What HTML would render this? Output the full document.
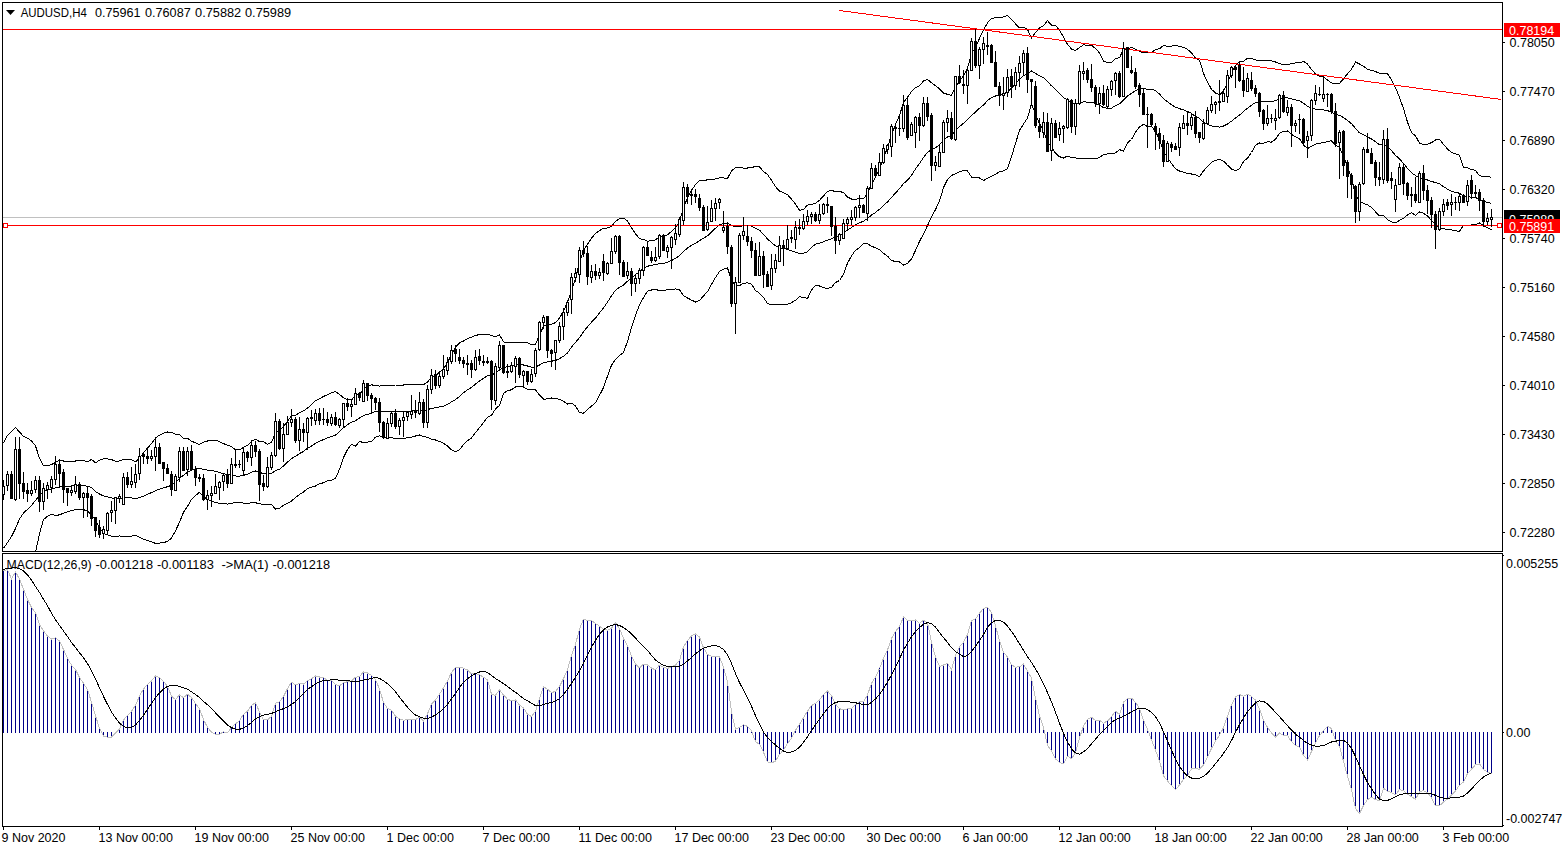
<!DOCTYPE html>
<html><head><meta charset="utf-8"><title>AUDUSD,H4</title>
<style>html,body{margin:0;padding:0;background:#fff;width:1566px;height:850px;overflow:hidden}</style>
</head><body>
<svg width="1566" height="850" viewBox="0 0 1566 850" style="display:block"><defs><clipPath id="cm"><rect x="3" y="3" width="1499" height="548"/></clipPath><clipPath id="cd"><rect x="3" y="554" width="1499" height="272"/></clipPath></defs><rect width="1566" height="850" fill="#fff"/><g clip-path="url(#cm)" shape-rendering="crispEdges"><rect x="3" y="217" width="1499" height="1" fill="#c0c0c0"/><polyline points="3.5,442.7 7.5,435.5 11.5,431.8 15.5,427.5 19.5,432.0 23.5,436.4 27.5,438.1 31.5,440.9 35.5,445.9 39.5,458.2 43.5,465.6 47.5,465.9 51.5,464.5 55.5,462.5 59.5,460.0 63.5,461.0 67.5,461.0 71.5,461.0 75.5,461.0 79.5,460.6 83.5,460.7 87.5,461.8 91.5,459.4 95.5,462.9 99.5,460.2 103.5,458.7 107.5,458.9 111.5,459.6 115.5,461.3 119.5,461.0 123.5,459.6 127.5,459.5 131.5,459.9 135.5,461.9 139.5,458.1 143.5,452.8 147.5,448.1 151.5,443.5 155.5,438.0 159.5,435.1 163.5,433.3 167.5,432.0 171.5,432.5 175.5,434.1 179.5,434.5 183.5,438.4 187.5,438.3 191.5,441.2 195.5,442.8 199.5,444.5 203.5,442.1 207.5,441.0 211.5,440.3 215.5,440.1 219.5,441.8 223.5,443.6 227.5,445.3 231.5,446.6 235.5,449.9 239.5,450.0 243.5,447.3 247.5,445.4 251.5,441.5 255.5,439.2 259.5,441.6 263.5,441.9 267.5,444.1 271.5,442.4 275.5,432.4 279.5,430.0 283.5,426.6 287.5,421.0 291.5,416.0 295.5,415.1 299.5,412.8 303.5,410.9 307.5,408.1 311.5,404.6 315.5,400.8 319.5,398.7 323.5,396.4 327.5,394.9 331.5,392.7 335.5,391.7 339.5,394.4 343.5,397.8 347.5,399.7 351.5,400.0 355.5,395.4 359.5,394.6 363.5,388.9 367.5,386.5 371.5,384.8 375.5,385.6 379.5,386.1 383.5,385.4 387.5,385.3 391.5,385.2 395.5,385.0 399.5,385.0 403.5,385.0 407.5,384.9 411.5,384.8 415.5,385.0 419.5,384.3 423.5,384.7 427.5,382.2 431.5,377.1 435.5,375.7 439.5,372.0 443.5,368.9 447.5,362.7 451.5,354.0 455.5,347.3 459.5,342.9 463.5,341.0 467.5,338.8 471.5,337.1 475.5,335.5 479.5,334.5 483.5,334.2 487.5,334.2 491.5,335.4 495.5,336.9 499.5,334.8 503.5,341.9 507.5,342.9 511.5,342.7 515.5,342.9 519.5,342.9 523.5,342.9 527.5,342.7 531.5,344.9 535.5,344.2 539.5,335.1 543.5,326.1 547.5,325.1 551.5,324.4 555.5,322.5 559.5,318.1 563.5,311.0 567.5,302.3 571.5,290.9 575.5,278.7 579.5,262.5 583.5,250.1 587.5,244.3 591.5,238.2 595.5,233.5 599.5,230.5 603.5,228.4 607.5,228.0 611.5,226.6 615.5,221.1 619.5,218.8 623.5,218.1 627.5,221.1 631.5,227.7 635.5,233.8 639.5,238.7 643.5,239.5 647.5,241.2 651.5,240.8 655.5,240.0 659.5,236.7 663.5,236.3 667.5,234.7 671.5,231.4 675.5,227.9 679.5,221.7 683.5,207.2 687.5,198.2 691.5,190.5 695.5,184.6 699.5,180.6 703.5,180.6 707.5,179.8 711.5,179.5 715.5,178.9 719.5,177.9 723.5,178.0 727.5,178.6 731.5,170.7 735.5,167.9 739.5,167.9 743.5,168.0 747.5,168.0 751.5,167.9 755.5,166.1 759.5,166.8 763.5,171.5 767.5,174.6 771.5,180.2 775.5,186.7 779.5,191.2 783.5,192.6 787.5,194.6 791.5,199.2 795.5,204.0 799.5,210.4 803.5,209.4 807.5,205.1 811.5,204.6 815.5,203.3 819.5,200.3 823.5,195.9 827.5,191.6 831.5,190.3 835.5,191.7 839.5,191.5 843.5,192.5 847.5,197.0 851.5,199.0 855.5,199.5 859.5,198.0 863.5,198.8 867.5,193.7 871.5,183.8 875.5,177.4 879.5,168.7 883.5,157.8 887.5,147.8 891.5,134.6 895.5,124.4 899.5,115.4 903.5,102.4 907.5,97.3 911.5,91.6 915.5,87.5 919.5,85.9 923.5,80.9 927.5,79.4 931.5,82.8 935.5,85.6 939.5,88.8 943.5,93.1 947.5,94.3 951.5,95.4 955.5,87.3 959.5,81.1 963.5,76.0 967.5,68.1 971.5,53.7 975.5,47.4 979.5,38.4 983.5,29.8 987.5,22.8 991.5,18.8 995.5,17.7 999.5,17.4 1003.5,17.0 1007.5,15.5 1011.5,19.5 1015.5,23.8 1019.5,27.9 1023.5,27.4 1027.5,29.5 1031.5,38.0 1035.5,32.6 1039.5,27.9 1043.5,25.6 1047.5,20.7 1051.5,25.2 1055.5,25.5 1059.5,30.0 1063.5,37.1 1067.5,44.3 1071.5,49.1 1075.5,50.5 1079.5,47.5 1083.5,44.9 1087.5,45.2 1091.5,45.3 1095.5,48.5 1099.5,52.9 1103.5,61.1 1107.5,62.5 1111.5,62.4 1115.5,58.2 1119.5,57.9 1123.5,49.2 1127.5,49.0 1131.5,47.3 1135.5,49.4 1139.5,51.4 1143.5,52.9 1147.5,52.1 1151.5,52.4 1155.5,49.7 1159.5,48.7 1163.5,45.6 1167.5,46.2 1171.5,46.1 1175.5,45.2 1179.5,46.6 1183.5,47.2 1187.5,49.4 1191.5,52.7 1195.5,58.1 1199.5,60.1 1203.5,73.4 1207.5,82.0 1211.5,89.3 1215.5,93.0 1219.5,94.8 1223.5,90.8 1227.5,82.8 1231.5,73.2 1235.5,65.5 1239.5,61.3 1243.5,61.3 1247.5,58.3 1251.5,58.2 1255.5,59.9 1259.5,60.5 1263.5,60.5 1267.5,60.8 1271.5,60.8 1275.5,62.0 1279.5,63.7 1283.5,64.5 1287.5,64.6 1291.5,63.5 1295.5,63.0 1299.5,62.8 1303.5,61.3 1307.5,64.0 1311.5,69.4 1315.5,74.0 1319.5,76.3 1323.5,76.9 1327.5,80.1 1331.5,82.9 1335.5,83.4 1339.5,83.4 1343.5,78.8 1347.5,73.8 1351.5,69.3 1355.5,61.9 1359.5,64.0 1363.5,66.2 1367.5,69.3 1371.5,70.4 1375.5,71.5 1379.5,73.4 1383.5,73.2 1387.5,73.8 1391.5,79.6 1395.5,87.7 1399.5,97.4 1403.5,108.6 1407.5,122.1 1411.5,132.6 1415.5,135.9 1419.5,143.1 1423.5,144.4 1427.5,144.3 1431.5,142.6 1435.5,140.0 1439.5,139.5 1443.5,144.3 1447.5,149.1 1451.5,152.4 1455.5,153.8 1459.5,155.1 1463.5,167.3 1467.5,167.9 1471.5,169.5 1475.5,170.3 1479.5,175.7 1483.5,176.6 1487.5,176.8 1491.5,177.2" fill="none" stroke="#000" stroke-width="1"/><polyline points="3.5,548.3 7.5,542.6 11.5,536.5 15.5,528.6 19.5,519.0 23.5,513.0 27.5,509.4 31.5,505.4 35.5,500.5 39.5,495.5 43.5,491.3 47.5,490.3 51.5,489.0 55.5,487.9 59.5,487.0 63.5,486.7 67.5,486.5 71.5,485.9 75.5,485.3 79.5,484.9 83.5,485.2 87.5,486.4 91.5,487.4 95.5,491.5 99.5,494.0 103.5,495.9 107.5,496.9 111.5,497.9 115.5,498.8 119.5,498.5 123.5,497.9 127.5,497.9 131.5,498.0 135.5,498.5 139.5,497.7 143.5,496.1 147.5,494.3 151.5,492.6 155.5,490.8 159.5,489.1 163.5,487.9 167.5,486.7 171.5,485.3 175.5,482.5 179.5,478.3 183.5,475.4 187.5,472.3 191.5,470.2 195.5,469.2 199.5,468.4 203.5,469.5 207.5,470.1 211.5,470.7 215.5,471.3 219.5,472.6 223.5,473.5 227.5,474.7 231.5,475.1 235.5,476.0 239.5,476.1 243.5,475.2 247.5,474.4 251.5,472.2 255.5,471.0 259.5,472.6 263.5,473.4 267.5,474.2 271.5,473.5 275.5,470.7 279.5,469.2 283.5,465.9 287.5,462.2 291.5,458.5 295.5,456.3 299.5,453.6 303.5,451.5 307.5,448.2 311.5,446.0 315.5,443.4 319.5,441.2 323.5,439.6 327.5,437.8 331.5,436.4 335.5,435.1 339.5,431.8 343.5,427.7 347.5,424.6 351.5,422.1 355.5,420.7 359.5,418.1 363.5,415.6 367.5,414.3 371.5,413.3 375.5,411.4 379.5,411.0 383.5,411.3 387.5,411.6 391.5,411.3 395.5,412.0 399.5,411.9 403.5,411.8 407.5,411.3 411.5,411.0 415.5,410.5 419.5,409.6 423.5,410.6 427.5,409.7 431.5,408.3 435.5,407.9 439.5,406.8 443.5,406.1 447.5,404.4 451.5,401.9 455.5,399.5 459.5,396.4 463.5,392.7 467.5,389.7 471.5,387.5 475.5,384.0 479.5,381.1 483.5,378.3 487.5,375.9 491.5,375.3 495.5,372.9 499.5,370.1 503.5,367.6 507.5,366.8 511.5,366.3 515.5,364.9 519.5,364.9 523.5,365.0 527.5,366.0 531.5,367.2 535.5,367.0 539.5,365.0 543.5,362.7 547.5,362.0 551.5,361.2 555.5,360.4 559.5,358.7 563.5,356.2 567.5,353.1 571.5,347.0 575.5,342.4 579.5,337.7 583.5,331.7 587.5,326.9 591.5,322.2 595.5,318.0 599.5,312.9 603.5,308.0 607.5,302.0 611.5,295.9 615.5,290.2 619.5,287.2 623.5,285.2 627.5,281.2 631.5,277.7 635.5,274.6 639.5,271.8 643.5,268.5 647.5,266.2 651.5,265.4 655.5,264.6 659.5,263.8 663.5,263.7 667.5,262.2 671.5,260.5 675.5,258.4 679.5,255.7 683.5,251.4 687.5,248.1 691.5,245.3 695.5,243.3 699.5,240.6 703.5,238.2 707.5,235.8 711.5,232.0 715.5,228.2 719.5,224.6 723.5,223.7 727.5,223.2 731.5,225.4 735.5,226.7 739.5,226.7 743.5,225.7 747.5,225.4 751.5,226.1 755.5,228.2 759.5,230.1 763.5,234.4 767.5,239.0 771.5,242.6 775.5,245.8 779.5,247.7 783.5,248.5 787.5,249.4 791.5,250.9 795.5,252.1 799.5,253.6 803.5,253.3 807.5,251.8 811.5,247.3 815.5,244.2 819.5,243.2 823.5,241.8 827.5,240.1 831.5,238.8 835.5,237.1 839.5,236.0 843.5,233.4 847.5,230.0 851.5,227.5 855.5,224.9 859.5,222.9 863.5,221.1 867.5,218.6 871.5,215.1 875.5,212.5 879.5,209.2 883.5,205.5 887.5,201.9 891.5,197.5 895.5,192.9 899.5,188.7 903.5,183.7 907.5,180.3 911.5,175.2 915.5,169.0 919.5,163.6 923.5,157.6 927.5,152.4 931.5,149.8 935.5,147.6 939.5,144.9 943.5,140.4 947.5,136.9 951.5,135.4 955.5,130.5 959.5,126.5 963.5,123.3 967.5,119.6 971.5,115.3 975.5,112.2 979.5,108.2 983.5,105.1 987.5,100.6 991.5,97.5 995.5,96.0 999.5,94.5 1003.5,94.0 1007.5,92.0 1011.5,88.1 1015.5,83.6 1019.5,79.1 1023.5,75.7 1027.5,73.8 1031.5,70.9 1035.5,73.4 1039.5,75.8 1043.5,77.7 1047.5,81.7 1051.5,85.8 1055.5,89.4 1059.5,93.4 1063.5,97.5 1067.5,100.2 1071.5,103.4 1075.5,104.2 1079.5,103.0 1083.5,101.9 1087.5,102.1 1091.5,102.1 1095.5,103.7 1099.5,105.2 1103.5,107.7 1107.5,108.2 1111.5,108.2 1115.5,105.5 1119.5,103.8 1123.5,100.1 1127.5,95.9 1131.5,93.4 1135.5,90.8 1139.5,89.1 1143.5,88.6 1147.5,89.3 1151.5,89.2 1155.5,90.6 1159.5,94.1 1163.5,98.6 1167.5,101.8 1171.5,104.8 1175.5,107.1 1179.5,108.8 1183.5,109.7 1187.5,111.6 1191.5,113.4 1195.5,116.4 1199.5,118.4 1203.5,122.1 1207.5,124.3 1211.5,125.9 1215.5,126.7 1219.5,127.1 1223.5,126.0 1227.5,124.0 1231.5,121.2 1235.5,118.1 1239.5,115.1 1243.5,111.5 1247.5,108.2 1251.5,105.3 1255.5,102.5 1259.5,101.8 1263.5,101.8 1267.5,101.4 1271.5,101.4 1275.5,100.7 1279.5,98.5 1283.5,98.0 1287.5,97.8 1291.5,98.9 1295.5,99.9 1299.5,100.7 1303.5,103.2 1307.5,106.2 1311.5,107.9 1315.5,109.1 1319.5,109.7 1323.5,109.9 1327.5,110.7 1331.5,111.9 1335.5,114.3 1339.5,115.4 1343.5,117.5 1347.5,120.4 1351.5,123.7 1355.5,128.4 1359.5,132.9 1363.5,134.7 1367.5,137.0 1371.5,138.9 1375.5,141.7 1379.5,144.7 1383.5,144.5 1387.5,146.7 1391.5,150.7 1395.5,155.3 1399.5,158.9 1403.5,163.4 1407.5,168.5 1411.5,172.7 1415.5,175.6 1419.5,177.6 1423.5,178.8 1427.5,180.0 1431.5,181.5 1435.5,182.5 1439.5,183.8 1443.5,186.6 1447.5,189.2 1451.5,191.1 1455.5,192.4 1459.5,193.2 1463.5,196.4 1467.5,196.6 1471.5,197.3 1475.5,197.6 1479.5,199.3 1483.5,201.2 1487.5,202.4 1491.5,203.4" fill="none" stroke="#000" stroke-width="1"/><polyline points="3.5,600.5 7.5,595.2 11.5,589.8 15.5,584.5 19.5,579.2 23.5,573.8 27.5,568.5 31.5,563.2 35.5,552.5 39.5,533.8 43.5,519.6 47.5,516.2 51.5,514.1 55.5,515.7 59.5,514.8 63.5,513.2 67.5,511.7 71.5,510.7 75.5,509.6 79.5,509.1 83.5,509.7 87.5,510.9 91.5,515.4 95.5,520.0 99.5,527.9 103.5,533.2 107.5,534.9 111.5,536.3 115.5,536.3 119.5,536.0 123.5,536.3 127.5,536.3 131.5,536.2 135.5,535.1 139.5,537.2 143.5,539.3 147.5,540.6 151.5,541.7 155.5,543.5 159.5,543.1 163.5,542.5 167.5,541.5 171.5,538.0 175.5,530.9 179.5,522.2 183.5,512.4 187.5,506.3 191.5,499.3 195.5,495.7 199.5,492.3 203.5,497.0 207.5,499.1 211.5,501.1 215.5,502.5 219.5,503.3 223.5,503.4 227.5,504.1 231.5,503.7 235.5,502.2 239.5,502.1 243.5,503.2 247.5,503.4 251.5,502.8 255.5,502.8 259.5,503.6 263.5,505.0 267.5,504.3 271.5,504.6 275.5,509.0 279.5,508.4 283.5,505.2 287.5,503.4 291.5,501.0 295.5,497.4 299.5,494.5 303.5,492.1 307.5,488.4 311.5,487.3 315.5,486.0 319.5,483.7 323.5,482.8 327.5,480.8 331.5,480.1 335.5,478.4 339.5,469.2 343.5,457.5 347.5,449.6 351.5,444.2 355.5,446.0 359.5,441.7 363.5,442.3 367.5,442.1 371.5,441.7 375.5,437.1 379.5,435.9 383.5,437.2 387.5,437.9 391.5,437.4 395.5,439.0 399.5,438.9 403.5,438.7 407.5,437.7 411.5,437.3 415.5,436.0 419.5,435.0 423.5,436.5 427.5,437.2 431.5,439.4 435.5,440.0 439.5,441.5 443.5,443.2 447.5,446.0 451.5,449.8 455.5,451.6 459.5,449.9 463.5,444.4 467.5,440.7 471.5,438.0 475.5,432.6 479.5,427.7 483.5,422.4 487.5,417.5 491.5,415.2 495.5,409.0 499.5,405.3 503.5,393.3 507.5,390.7 511.5,389.8 515.5,386.9 519.5,386.8 523.5,387.0 527.5,389.2 531.5,389.5 535.5,389.8 539.5,395.0 543.5,399.2 547.5,398.9 551.5,398.0 555.5,398.3 559.5,399.3 563.5,401.4 567.5,404.0 571.5,403.1 575.5,406.0 579.5,412.8 583.5,413.2 587.5,409.4 591.5,406.1 595.5,402.6 599.5,395.3 603.5,387.6 607.5,376.1 611.5,365.2 615.5,359.3 619.5,355.7 623.5,352.4 627.5,341.4 631.5,327.7 635.5,315.4 639.5,304.9 643.5,297.5 647.5,291.3 651.5,290.0 655.5,289.1 659.5,290.9 663.5,291.0 667.5,289.6 671.5,289.6 675.5,288.9 679.5,289.7 683.5,295.7 687.5,298.0 691.5,300.1 695.5,302.0 699.5,300.5 703.5,295.9 707.5,291.7 711.5,284.5 715.5,277.5 719.5,271.4 723.5,269.3 727.5,267.9 731.5,280.2 735.5,285.5 739.5,285.5 743.5,283.4 747.5,282.8 751.5,284.3 755.5,290.4 759.5,293.3 763.5,297.4 767.5,303.4 771.5,304.9 775.5,304.9 779.5,304.1 783.5,304.4 787.5,304.2 791.5,302.7 795.5,300.3 799.5,296.8 803.5,297.3 807.5,298.5 811.5,290.1 815.5,285.2 819.5,286.0 823.5,287.7 827.5,288.5 831.5,287.4 835.5,282.5 839.5,280.5 843.5,274.3 847.5,263.1 851.5,256.0 855.5,250.2 859.5,247.8 863.5,243.4 867.5,243.5 871.5,246.4 875.5,247.6 879.5,249.7 883.5,253.3 887.5,256.1 891.5,260.5 895.5,261.5 899.5,261.9 903.5,265.1 907.5,263.3 911.5,258.8 915.5,250.5 919.5,241.3 923.5,234.2 927.5,225.5 931.5,216.9 935.5,209.6 939.5,201.0 943.5,187.6 947.5,179.5 951.5,175.4 955.5,173.7 959.5,171.8 963.5,170.7 967.5,171.0 971.5,177.0 975.5,177.0 979.5,178.0 983.5,180.5 987.5,178.4 991.5,176.2 995.5,174.3 999.5,171.6 1003.5,170.9 1007.5,168.5 1011.5,156.7 1015.5,143.4 1019.5,130.4 1023.5,124.1 1027.5,118.0 1031.5,103.8 1035.5,114.1 1039.5,123.8 1043.5,129.7 1047.5,142.7 1051.5,146.5 1055.5,153.3 1059.5,156.7 1063.5,158.0 1067.5,156.1 1071.5,157.7 1075.5,158.0 1079.5,158.5 1083.5,159.0 1087.5,158.9 1091.5,158.9 1095.5,158.8 1099.5,157.4 1103.5,154.4 1107.5,153.9 1111.5,153.9 1115.5,152.9 1119.5,149.7 1123.5,151.0 1127.5,142.8 1131.5,139.5 1135.5,132.3 1139.5,126.9 1143.5,124.3 1147.5,126.5 1151.5,126.1 1155.5,131.5 1159.5,139.5 1163.5,151.6 1167.5,157.4 1171.5,163.4 1175.5,168.9 1179.5,171.0 1183.5,172.2 1187.5,173.7 1191.5,174.0 1195.5,174.7 1199.5,176.7 1203.5,170.9 1207.5,166.6 1211.5,162.4 1215.5,160.3 1219.5,159.3 1223.5,161.1 1227.5,165.2 1231.5,169.1 1235.5,170.6 1239.5,168.9 1243.5,161.6 1247.5,158.1 1251.5,152.5 1255.5,145.1 1259.5,143.0 1263.5,143.1 1267.5,141.9 1271.5,142.1 1275.5,139.3 1279.5,133.3 1283.5,131.4 1287.5,131.0 1291.5,134.3 1295.5,136.8 1299.5,138.6 1303.5,145.1 1307.5,148.5 1311.5,146.4 1315.5,144.2 1319.5,143.1 1323.5,142.9 1327.5,141.3 1331.5,140.9 1335.5,145.3 1339.5,147.3 1343.5,156.1 1347.5,166.9 1351.5,178.2 1355.5,194.9 1359.5,201.7 1363.5,203.3 1367.5,204.8 1371.5,207.5 1375.5,211.8 1379.5,215.9 1383.5,215.8 1387.5,219.6 1391.5,221.8 1395.5,222.8 1399.5,220.5 1403.5,218.3 1407.5,214.9 1411.5,212.8 1415.5,215.2 1419.5,212.0 1423.5,213.3 1427.5,215.8 1431.5,220.5 1435.5,224.9 1439.5,228.2 1443.5,228.8 1447.5,229.3 1451.5,229.8 1455.5,230.9 1459.5,231.3 1463.5,225.5 1467.5,225.3 1471.5,225.0 1475.5,224.9 1479.5,222.9 1483.5,225.8 1487.5,227.9 1491.5,229.7" fill="none" stroke="#000" stroke-width="1"/><rect x="3" y="29" width="1499" height="1" fill="#ff0000"/><rect x="3" y="225" width="1499" height="1" fill="#ff0000"/><line x1="839.5" y1="10.5" x2="1501.5" y2="99.5" stroke="#ff0000" stroke-width="1"/><rect x="3.5" y="223.5" width="4" height="4" fill="#fff" stroke="#ff0000" stroke-width="1"/><rect x="1497.5" y="223.5" width="4" height="4" fill="#fff" stroke="#ff0000" stroke-width="1"/><path d="M3 480h1v20h-1zM2 486h3v9h-3zM7 471h1v20h-1zM6 474h3v12h-3zM11 471h1v28h-1zM10 474h3v25h-3zM15 437h1v64h-1zM14 449h3v51h-3zM19 437h1v62h-1zM18 449h3v35h-3zM23 472h1v27h-1zM22 483h3v9h-3zM27 483h1v19h-1zM26 490h3v4h-3zM31 481h1v15h-1zM30 490h3v4h-3zM35 476h1v17h-1zM34 480h3v10h-3zM39 476h1v36h-1zM38 480h3v22h-3zM43 483h1v27h-1zM42 488h3v14h-3zM47 482h1v17h-1zM46 485h3v5h-3zM51 476h1v17h-1zM50 479h3v9h-3zM55 456h1v29h-1zM54 464h3v16h-3zM59 460h1v26h-1zM58 464h3v10h-3zM63 469h1v34h-1zM62 472h3v18h-3zM67 488h1v18h-1zM66 488h3v5h-3zM71 486h1v10h-1zM70 490h3v3h-3zM75 476h1v18h-1zM74 484h3v8h-3zM79 482h1v18h-1zM78 484h3v14h-3zM83 492h1v26h-1zM82 493h3v5h-3zM87 486h1v31h-1zM86 493h3v5h-3zM91 494h1v32h-1zM90 496h3v23h-3zM95 517h1v20h-1zM94 517h3v14h-3zM99 520h1v18h-1zM98 527h3v8h-3zM103 526h1v13h-1zM102 529h3v5h-3zM107 512h1v22h-1zM106 513h3v18h-3zM111 501h1v21h-1zM110 510h3v3h-3zM115 497h1v27h-1zM114 497h3v14h-3zM119 494h1v9h-1zM118 496h3v3h-3zM123 473h1v32h-1zM122 477h3v28h-3zM127 472h1v16h-1zM126 477h3v8h-3zM131 467h1v21h-1zM130 481h3v4h-3zM135 464h1v24h-1zM134 474h3v9h-3zM139 448h1v32h-1zM138 456h3v18h-3zM143 453h1v11h-1zM142 454h3v3h-3zM147 447h1v17h-1zM146 456h3v3h-3zM151 450h1v11h-1zM150 456h3v3h-3zM155 438h1v33h-1zM154 447h3v10h-3zM159 443h1v21h-1zM158 447h3v17h-3zM163 462h1v19h-1zM162 462h3v7h-3zM167 464h1v10h-1zM166 468h3v6h-3zM171 471h1v25h-1zM170 474h3v16h-3zM175 474h1v17h-1zM174 476h3v15h-3zM179 447h1v35h-1zM178 451h3v27h-3zM183 447h1v24h-1zM182 451h3v20h-3zM187 447h1v29h-1zM186 451h3v19h-3zM191 445h1v25h-1zM190 451h3v19h-3zM195 466h1v20h-1zM194 469h3v9h-3zM199 474h1v8h-1zM198 477h3v2h-3zM203 474h1v27h-1zM202 478h3v22h-3zM207 490h1v20h-1zM206 495h3v5h-3zM211 486h1v21h-1zM210 493h3v3h-3zM215 474h1v20h-1zM214 486h3v8h-3zM219 481h1v19h-1zM218 482h3v6h-3zM223 473h1v18h-1zM222 475h3v7h-3zM227 469h1v19h-1zM226 474h3v10h-3zM231 458h1v26h-1zM230 464h3v20h-3zM235 449h1v19h-1zM234 464h3v2h-3zM239 460h1v8h-1zM238 464h3v1h-3zM243 447h1v28h-1zM242 452h3v19h-3zM247 451h1v11h-1zM246 452h3v6h-3zM251 440h1v26h-1zM250 445h3v13h-3zM255 441h1v16h-1zM254 445h3v7h-3zM259 449h1v52h-1zM258 451h3v34h-3zM263 475h1v16h-1zM262 483h3v4h-3zM267 457h1v31h-1zM266 467h3v20h-3zM271 452h1v18h-1zM270 455h3v13h-3zM275 413h1v44h-1zM274 421h3v35h-3zM279 419h1v31h-1zM278 421h3v28h-3zM283 423h1v39h-1zM282 434h3v15h-3zM287 416h1v19h-1zM286 422h3v13h-3zM291 409h1v18h-1zM290 419h3v4h-3zM295 417h1v26h-1zM294 419h3v22h-3zM299 417h1v34h-1zM298 429h3v12h-3zM303 423h1v19h-1zM302 429h3v4h-3zM307 417h1v33h-1zM306 418h3v15h-3zM311 410h1v16h-1zM310 417h3v2h-3zM315 409h1v16h-1zM314 413h3v8h-3zM319 408h1v17h-1zM318 413h3v8h-3zM323 408h1v17h-1zM322 419h3v1h-3zM327 412h1v14h-1zM326 419h3v4h-3zM331 414h1v12h-1zM330 417h3v7h-3zM335 412h1v14h-1zM334 417h3v8h-3zM339 418h1v10h-1zM338 419h3v7h-3zM343 403h1v24h-1zM342 403h3v17h-3zM347 398h1v13h-1zM346 403h3v4h-3zM351 399h1v18h-1zM350 404h3v3h-3zM355 388h1v17h-1zM354 393h3v12h-3zM359 392h1v9h-1zM358 393h3v5h-3zM363 380h1v22h-1zM362 383h3v19h-3zM367 383h1v18h-1zM366 383h3v13h-3zM371 393h1v20h-1zM370 395h3v4h-3zM375 397h1v13h-1zM374 398h3v5h-3zM379 398h1v34h-1zM378 402h3v21h-3zM383 421h1v18h-1zM382 422h3v16h-3zM387 418h1v21h-1zM386 423h3v16h-3zM391 411h1v16h-1zM390 413h3v11h-3zM395 409h1v20h-1zM394 413h3v14h-3zM399 418h1v17h-1zM398 420h3v7h-3zM403 411h1v26h-1zM402 417h3v4h-3zM407 411h1v10h-1zM406 412h3v5h-3zM411 395h1v24h-1zM410 411h3v4h-3zM415 400h1v18h-1zM414 410h3v3h-3zM419 392h1v23h-1zM418 402h3v12h-3zM423 399h1v29h-1zM422 402h3v21h-3zM427 385h1v43h-1zM426 389h3v34h-3zM431 369h1v25h-1zM430 375h3v15h-3zM435 370h1v19h-1zM434 374h3v12h-3zM439 372h1v16h-1zM438 376h3v10h-3zM443 355h1v24h-1zM442 369h3v8h-3zM447 357h1v18h-1zM446 362h3v9h-3zM451 345h1v19h-1zM450 350h3v12h-3zM455 345h1v17h-1zM454 349h3v5h-3zM459 349h1v15h-1zM458 357h3v4h-3zM463 357h1v11h-1zM462 360h3v4h-3zM467 355h1v20h-1zM466 363h3v2h-3zM471 360h1v18h-1zM470 363h3v7h-3zM475 350h1v21h-1zM474 357h3v13h-3zM479 349h1v16h-1zM478 356h3v5h-3zM483 355h1v11h-1zM482 361h3v2h-3zM487 357h1v7h-1zM486 361h3v2h-3zM491 360h1v50h-1zM490 361h3v39h-3zM495 363h1v42h-1zM494 366h3v35h-3zM499 341h1v28h-1zM498 345h3v23h-3zM503 345h1v29h-1zM502 345h3v28h-3zM507 364h1v14h-1zM506 371h3v2h-3zM511 362h1v11h-1zM510 365h3v7h-3zM515 356h1v27h-1zM514 358h3v9h-3zM519 357h1v21h-1zM518 358h3v17h-3zM523 370h1v17h-1zM522 371h3v5h-3zM527 371h1v14h-1zM526 371h3v11h-3zM531 369h1v14h-1zM530 374h3v8h-3zM535 348h1v29h-1zM534 350h3v24h-3zM539 321h1v30h-1zM538 322h3v28h-3zM543 315h1v14h-1zM542 317h3v6h-3zM547 316h1v42h-1zM546 316h3v35h-3zM551 349h1v18h-1zM550 350h3v4h-3zM555 340h1v30h-1zM554 340h3v13h-3zM559 322h1v21h-1zM558 326h3v15h-3zM563 308h1v32h-1zM562 312h3v15h-3zM567 300h1v16h-1zM566 302h3v11h-3zM571 273h1v41h-1zM570 277h3v23h-3zM575 268h1v14h-1zM574 273h3v5h-3zM579 247h1v36h-1zM578 250h3v25h-3zM583 241h1v16h-1zM582 250h3v4h-3zM587 246h1v39h-1zM586 253h3v24h-3zM591 265h1v18h-1zM590 271h3v7h-3zM595 264h1v16h-1zM594 271h3v5h-3zM599 268h1v11h-1zM598 272h3v4h-3zM603 254h1v27h-1zM602 261h3v12h-3zM607 262h1v13h-1zM606 263h3v11h-3zM611 238h1v26h-1zM610 251h3v13h-3zM615 235h1v19h-1zM614 236h3v16h-3zM619 235h1v40h-1zM618 236h3v27h-3zM623 260h1v17h-1zM622 262h3v15h-3zM627 262h1v17h-1zM626 271h3v5h-3zM631 268h1v28h-1zM630 271h3v13h-3zM635 275h1v17h-1zM634 278h3v6h-3zM639 268h1v16h-1zM638 270h3v9h-3zM643 246h1v30h-1zM642 247h3v24h-3zM647 241h1v15h-1zM646 247h3v9h-3zM651 251h1v12h-1zM650 257h3v4h-3zM655 247h1v15h-1zM654 257h3v4h-3zM659 234h1v25h-1zM658 235h3v22h-3zM663 234h1v17h-1zM662 235h3v16h-3zM667 245h1v13h-1zM666 247h3v5h-3zM671 236h1v33h-1zM670 237h3v11h-3zM675 224h1v21h-1zM674 233h3v7h-3zM679 217h1v20h-1zM678 219h3v16h-3zM683 182h1v43h-1zM682 187h3v34h-3zM687 184h1v20h-1zM686 187h3v10h-3zM691 189h1v16h-1zM690 194h3v2h-3zM695 189h1v14h-1zM694 194h3v3h-3zM699 194h1v17h-1zM698 198h3v10h-3zM703 205h1v26h-1zM702 207h3v24h-3zM707 206h1v25h-1zM706 222h3v8h-3zM711 200h1v22h-1zM710 208h3v14h-3zM715 198h1v23h-1zM714 203h3v6h-3zM719 198h1v11h-1zM718 199h3v4h-3zM723 211h1v22h-1zM722 227h3v4h-3zM727 222h1v32h-1zM726 226h3v21h-3zM731 245h1v62h-1zM730 247h3v57h-3zM735 277h1v57h-1zM734 282h3v22h-3zM739 233h1v50h-1zM738 235h3v48h-3zM743 217h1v23h-1zM742 231h3v5h-3zM747 225h1v21h-1zM746 236h3v6h-3zM751 237h1v21h-1zM750 241h3v10h-3zM755 243h1v33h-1zM754 250h3v26h-3zM759 242h1v34h-1zM758 256h3v20h-3zM763 251h1v37h-1zM762 256h3v19h-3zM767 271h1v16h-1zM766 274h3v13h-3zM771 254h1v36h-1zM770 268h3v18h-3zM775 254h1v19h-1zM774 260h3v9h-3zM779 236h1v26h-1zM778 245h3v17h-3zM783 240h1v26h-1zM782 245h3v3h-3zM787 225h1v25h-1zM786 239h3v10h-3zM791 230h1v13h-1zM790 237h3v2h-3zM795 221h1v28h-1zM794 227h3v13h-3zM799 219h1v16h-1zM798 227h3v2h-3zM803 214h1v16h-1zM802 221h3v8h-3zM807 210h1v15h-1zM806 216h3v6h-3zM811 212h1v12h-1zM810 214h3v3h-3zM815 212h1v10h-1zM814 214h3v7h-3zM819 204h1v20h-1zM818 214h3v7h-3zM823 203h1v12h-1zM822 204h3v10h-3zM827 197h1v16h-1zM826 204h3v2h-3zM831 206h1v30h-1zM830 206h3v21h-3zM835 217h1v37h-1zM834 226h3v15h-3zM839 233h1v12h-1zM838 234h3v7h-3zM843 219h1v20h-1zM842 223h3v16h-3zM847 217h1v12h-1zM846 219h3v5h-3zM851 210h1v15h-1zM850 217h3v3h-3zM855 206h1v15h-1zM854 207h3v11h-3zM859 195h1v23h-1zM858 205h3v3h-3zM863 204h1v9h-1zM862 205h3v8h-3zM867 186h1v35h-1zM866 188h3v26h-3zM871 163h1v26h-1zM870 168h3v21h-3zM875 165h1v13h-1zM874 168h3v8h-3zM879 153h1v23h-1zM878 162h3v14h-3zM883 144h1v20h-1zM882 148h3v15h-3zM887 144h1v10h-1zM886 145h3v5h-3zM891 124h1v33h-1zM890 126h3v21h-3zM895 125h1v18h-1zM894 127h3v2h-3zM899 114h1v22h-1zM898 128h3v1h-3zM903 95h1v37h-1zM902 105h3v24h-3zM907 98h1v42h-1zM906 105h3v33h-3zM911 122h1v14h-1zM910 124h3v12h-3zM915 116h1v32h-1zM914 117h3v16h-3zM919 113h1v28h-1zM918 117h3v9h-3zM923 97h1v30h-1zM922 103h3v23h-3zM927 97h1v24h-1zM926 103h3v14h-3zM931 113h1v68h-1zM930 115h3v51h-3zM935 156h1v15h-1zM934 162h3v4h-3zM939 144h1v23h-1zM938 152h3v15h-3zM943 120h1v33h-1zM942 122h3v31h-3zM947 110h1v22h-1zM946 118h3v5h-3zM951 112h1v28h-1zM950 118h3v21h-3zM955 76h1v65h-1zM954 76h3v64h-3zM959 65h1v19h-1zM958 76h3v7h-3zM963 70h1v24h-1zM962 84h3v2h-3zM967 66h1v38h-1zM966 70h3v16h-3zM971 38h1v33h-1zM970 41h3v30h-3zM975 29h1v39h-1zM974 41h3v25h-3zM979 47h1v32h-1zM978 49h3v17h-3zM983 37h1v27h-1zM982 43h3v7h-3zM987 32h1v23h-1zM986 45h3v2h-3zM991 44h1v19h-1zM990 45h3v18h-3zM995 51h1v36h-1zM994 62h3v25h-3zM999 82h1v24h-1zM998 86h3v10h-3zM1003 77h1v33h-1zM1002 93h3v3h-3zM1007 69h1v28h-1zM1006 77h3v16h-3zM1011 69h1v29h-1zM1010 76h3v11h-3zM1015 67h1v23h-1zM1014 72h3v14h-3zM1019 56h1v31h-1zM1018 63h3v10h-3zM1023 50h1v25h-1zM1022 53h3v10h-3zM1027 47h1v46h-1zM1026 53h3v27h-3zM1031 79h1v27h-1zM1030 79h3v3h-3zM1035 81h1v47h-1zM1034 86h3v40h-3zM1039 118h1v20h-1zM1038 126h3v6h-3zM1043 112h1v26h-1zM1042 122h3v11h-3zM1047 113h1v39h-1zM1046 122h3v30h-3zM1051 118h1v43h-1zM1050 123h3v28h-3zM1055 120h1v18h-1zM1054 123h3v15h-3zM1059 122h1v19h-1zM1058 128h3v7h-3zM1063 125h1v18h-1zM1062 126h3v3h-3zM1067 98h1v31h-1zM1066 99h3v29h-3zM1071 99h1v34h-1zM1070 100h3v27h-3zM1075 99h1v36h-1zM1074 103h3v24h-3zM1079 65h1v40h-1zM1078 71h3v33h-3zM1083 62h1v18h-1zM1082 71h3v3h-3zM1087 68h1v15h-1zM1086 70h3v10h-3zM1091 64h1v28h-1zM1090 79h3v9h-3zM1095 85h1v22h-1zM1094 87h3v17h-3zM1099 87h1v27h-1zM1098 93h3v11h-3zM1103 85h1v21h-1zM1102 93h3v12h-3zM1107 86h1v22h-1zM1106 89h3v18h-3zM1111 80h1v16h-1zM1110 81h3v9h-3zM1115 72h1v23h-1zM1114 73h3v8h-3zM1119 71h1v27h-1zM1118 73h3v24h-3zM1123 42h1v55h-1zM1122 48h3v49h-3zM1127 47h1v21h-1zM1126 47h3v21h-3zM1131 56h1v18h-1zM1130 70h3v3h-3zM1135 68h1v21h-1zM1134 72h3v15h-3zM1139 83h1v24h-1zM1138 85h3v10h-3zM1143 88h1v27h-1zM1142 93h3v22h-3zM1147 107h1v41h-1zM1146 114h3v1h-3zM1151 113h1v13h-1zM1150 114h3v11h-3zM1155 123h1v27h-1zM1154 126h3v6h-3zM1159 128h1v21h-1zM1158 133h3v8h-3zM1163 135h1v32h-1zM1162 140h3v22h-3zM1167 141h1v21h-1zM1166 143h3v19h-3zM1171 142h1v10h-1zM1170 144h3v4h-3zM1175 143h1v7h-1zM1174 146h3v4h-3zM1179 123h1v33h-1zM1178 127h3v21h-3zM1183 115h1v14h-1zM1182 123h3v6h-3zM1187 111h1v24h-1zM1186 123h3v3h-3zM1191 114h1v16h-1zM1190 117h3v9h-3zM1195 111h1v27h-1zM1194 117h3v17h-3zM1199 132h1v11h-1zM1198 132h3v6h-3zM1203 119h1v21h-1zM1202 123h3v16h-3zM1207 107h1v17h-1zM1206 110h3v14h-3zM1211 96h1v17h-1zM1210 104h3v7h-3zM1215 101h1v13h-1zM1214 102h3v3h-3zM1219 80h1v31h-1zM1218 101h3v2h-3zM1223 89h1v13h-1zM1222 93h3v9h-3zM1227 70h1v33h-1zM1226 75h3v22h-3zM1231 66h1v12h-1zM1230 67h3v9h-3zM1235 66h1v22h-1zM1234 67h3v3h-3zM1239 61h1v21h-1zM1238 65h3v16h-3zM1243 67h1v30h-1zM1242 80h3v11h-3zM1247 73h1v19h-1zM1246 78h3v14h-3zM1251 72h1v19h-1zM1250 80h3v9h-3zM1255 85h1v12h-1zM1254 88h3v6h-3zM1259 92h1v25h-1zM1258 93h3v19h-3zM1263 109h1v21h-1zM1262 110h3v14h-3zM1267 105h1v21h-1zM1266 118h3v6h-3zM1271 114h1v9h-1zM1270 118h3v1h-3zM1275 109h1v21h-1zM1274 118h3v3h-3zM1279 94h1v25h-1zM1278 95h3v23h-3zM1283 91h1v22h-1zM1282 95h3v17h-3zM1287 100h1v16h-1zM1286 107h3v6h-3zM1291 104h1v43h-1zM1290 107h3v19h-3zM1295 120h1v12h-1zM1294 123h3v3h-3zM1299 114h1v20h-1zM1298 119h3v1h-3zM1303 118h1v27h-1zM1302 119h3v24h-3zM1307 131h1v27h-1zM1306 136h3v5h-3zM1311 99h1v42h-1zM1310 100h3v36h-3zM1315 85h1v20h-1zM1314 93h3v8h-3zM1319 87h1v9h-1zM1318 94h3v1h-3zM1323 76h1v26h-1zM1322 94h3v5h-3zM1327 93h1v14h-1zM1326 94h3v1h-3zM1331 93h1v21h-1zM1330 94h3v18h-3zM1335 103h1v44h-1zM1334 111h3v33h-3zM1339 130h1v49h-1zM1338 132h3v11h-3zM1343 130h1v46h-1zM1342 131h3v35h-3zM1347 160h1v38h-1zM1346 162h3v15h-3zM1351 173h1v26h-1zM1350 175h3v10h-3zM1355 185h1v38h-1zM1354 186h3v26h-3zM1359 182h1v39h-1zM1358 184h3v28h-3zM1363 147h1v38h-1zM1362 149h3v35h-3zM1367 133h1v20h-1zM1366 149h3v4h-3zM1371 148h1v16h-1zM1370 153h3v11h-3zM1375 160h1v26h-1zM1374 162h3v16h-3zM1379 162h1v24h-1zM1378 177h3v3h-3zM1383 130h1v54h-1zM1382 139h3v41h-3zM1387 128h1v55h-1zM1386 139h3v42h-3zM1391 172h1v17h-1zM1390 178h3v3h-3zM1395 179h1v33h-1zM1394 185h3v15h-3zM1399 163h1v22h-1zM1398 167h3v18h-3zM1403 163h1v32h-1zM1402 167h3v17h-3zM1407 182h1v18h-1zM1406 183h3v13h-3zM1411 187h1v20h-1zM1410 194h3v2h-3zM1415 177h1v26h-1zM1414 194h3v7h-3zM1419 171h1v32h-1zM1418 173h3v30h-3zM1423 165h1v35h-1zM1422 173h3v18h-3zM1427 185h1v29h-1zM1426 190h3v11h-3zM1431 197h1v31h-1zM1430 200h3v15h-3zM1435 211h1v38h-1zM1434 214h3v16h-3zM1439 208h1v23h-1zM1438 211h3v19h-3zM1443 199h1v17h-1zM1442 204h3v8h-3zM1447 199h1v11h-1zM1446 202h3v4h-3zM1451 194h1v22h-1zM1450 202h3v3h-3zM1455 197h1v13h-1zM1454 202h3v1h-3zM1459 194h1v17h-1zM1458 196h3v7h-3zM1463 194h1v9h-1zM1462 195h3v8h-3zM1467 180h1v26h-1zM1466 185h3v17h-3zM1471 175h1v24h-1zM1470 180h3v14h-3zM1475 185h1v13h-1zM1474 192h3v2h-3zM1479 189h1v22h-1zM1478 192h3v9h-3zM1483 198h1v29h-1zM1482 200h3v22h-3zM1487 213h1v12h-1zM1486 218h3v4h-3zM1491 209h1v18h-1zM1490 217h3v3h-3z" fill="#000"/><path d="M3 487h1v7h-1zM7 475h1v10h-1zM15 450h1v49h-1zM31 491h1v2h-1zM35 481h1v8h-1zM43 489h1v12h-1zM47 486h1v3h-1zM51 480h1v7h-1zM55 465h1v14h-1zM71 491h1v1h-1zM75 485h1v6h-1zM83 494h1v3h-1zM103 530h1v3h-1zM107 514h1v16h-1zM111 511h1v1h-1zM115 498h1v12h-1zM119 497h1v1h-1zM123 478h1v26h-1zM131 482h1v2h-1zM135 475h1v7h-1zM139 457h1v16h-1zM151 457h1v1h-1zM155 448h1v8h-1zM175 477h1v13h-1zM179 452h1v25h-1zM187 452h1v17h-1zM207 496h1v3h-1zM211 494h1v1h-1zM215 487h1v6h-1zM219 483h1v4h-1zM223 476h1v5h-1zM231 465h1v18h-1zM243 453h1v17h-1zM251 446h1v11h-1zM267 468h1v18h-1zM271 456h1v11h-1zM275 422h1v33h-1zM283 435h1v13h-1zM287 423h1v11h-1zM291 420h1v2h-1zM299 430h1v10h-1zM307 419h1v13h-1zM315 414h1v6h-1zM331 418h1v5h-1zM339 420h1v5h-1zM343 404h1v15h-1zM351 405h1v1h-1zM355 394h1v10h-1zM363 384h1v17h-1zM387 424h1v14h-1zM391 414h1v9h-1zM399 421h1v5h-1zM403 418h1v2h-1zM407 413h1v3h-1zM411 412h1v2h-1zM419 403h1v10h-1zM427 390h1v32h-1zM431 376h1v13h-1zM439 377h1v8h-1zM443 370h1v6h-1zM447 363h1v7h-1zM451 351h1v10h-1zM475 358h1v11h-1zM495 367h1v33h-1zM499 346h1v21h-1zM511 366h1v5h-1zM515 359h1v7h-1zM523 372h1v3h-1zM531 375h1v6h-1zM535 351h1v22h-1zM539 323h1v26h-1zM543 318h1v4h-1zM555 341h1v11h-1zM559 327h1v13h-1zM563 313h1v13h-1zM567 303h1v9h-1zM571 278h1v21h-1zM575 274h1v3h-1zM579 251h1v23h-1zM591 272h1v5h-1zM599 273h1v2h-1zM607 264h1v9h-1zM611 252h1v11h-1zM615 237h1v14h-1zM627 272h1v3h-1zM635 279h1v4h-1zM639 271h1v7h-1zM643 248h1v22h-1zM655 258h1v2h-1zM659 236h1v20h-1zM667 248h1v3h-1zM671 238h1v9h-1zM675 234h1v5h-1zM679 220h1v14h-1zM683 188h1v32h-1zM707 223h1v6h-1zM711 209h1v12h-1zM715 204h1v4h-1zM719 200h1v2h-1zM723 228h1v2h-1zM735 283h1v20h-1zM739 236h1v46h-1zM743 232h1v3h-1zM759 257h1v18h-1zM771 269h1v16h-1zM775 261h1v7h-1zM779 246h1v15h-1zM787 240h1v8h-1zM795 228h1v11h-1zM803 222h1v6h-1zM807 217h1v4h-1zM811 215h1v1h-1zM819 215h1v5h-1zM823 205h1v8h-1zM839 235h1v5h-1zM843 224h1v14h-1zM847 220h1v3h-1zM851 218h1v1h-1zM855 208h1v9h-1zM859 206h1v1h-1zM867 189h1v24h-1zM871 169h1v19h-1zM879 163h1v12h-1zM883 149h1v13h-1zM887 146h1v3h-1zM891 127h1v19h-1zM903 106h1v22h-1zM911 125h1v10h-1zM915 118h1v14h-1zM923 104h1v21h-1zM935 163h1v2h-1zM939 153h1v13h-1zM943 123h1v29h-1zM947 119h1v3h-1zM955 77h1v62h-1zM967 71h1v14h-1zM971 42h1v28h-1zM979 50h1v15h-1zM983 44h1v5h-1zM1003 94h1v1h-1zM1007 78h1v14h-1zM1015 73h1v12h-1zM1019 64h1v8h-1zM1023 54h1v8h-1zM1043 123h1v9h-1zM1051 124h1v26h-1zM1059 129h1v5h-1zM1063 127h1v1h-1zM1067 100h1v27h-1zM1075 104h1v22h-1zM1079 72h1v31h-1zM1083 72h1v1h-1zM1099 94h1v9h-1zM1107 90h1v16h-1zM1111 82h1v7h-1zM1115 74h1v6h-1zM1123 49h1v47h-1zM1167 144h1v17h-1zM1179 128h1v19h-1zM1183 124h1v4h-1zM1191 118h1v7h-1zM1203 124h1v14h-1zM1207 111h1v12h-1zM1211 105h1v5h-1zM1215 103h1v1h-1zM1223 94h1v7h-1zM1227 76h1v20h-1zM1231 68h1v7h-1zM1247 79h1v12h-1zM1267 119h1v4h-1zM1275 119h1v1h-1zM1279 96h1v21h-1zM1287 108h1v4h-1zM1295 124h1v1h-1zM1307 137h1v3h-1zM1311 101h1v34h-1zM1315 94h1v6h-1zM1323 95h1v3h-1zM1339 133h1v9h-1zM1359 185h1v26h-1zM1363 150h1v33h-1zM1383 140h1v39h-1zM1395 186h1v13h-1zM1399 168h1v16h-1zM1419 174h1v28h-1zM1439 212h1v17h-1zM1443 205h1v6h-1zM1451 203h1v1h-1zM1459 197h1v5h-1zM1467 186h1v15h-1zM1487 219h1v2h-1zM1491 218h1v1h-1z" fill="#fff"/></g><g clip-path="url(#cd)" shape-rendering="crispEdges"><path d="M3 570h1v163h-1zM7 569h1v164h-1zM11 578h1v155h-1zM15 571h1v162h-1zM19 579h1v154h-1zM23 589h1v144h-1zM27 599h1v134h-1zM31 607h1v126h-1zM35 612h1v121h-1zM39 624h1v109h-1zM43 630h1v103h-1zM47 636h1v97h-1zM51 639h1v94h-1zM55 637h1v96h-1zM59 640h1v93h-1zM63 649h1v84h-1zM67 658h1v75h-1zM71 665h1v68h-1zM75 669h1v64h-1zM79 677h1v56h-1zM83 683h1v50h-1zM87 689h1v44h-1zM91 702h1v31h-1zM95 715h1v18h-1zM99 728h1v5h-1zM103 732h1v5h-1zM107 732h1v6h-1zM111 732h1v6h-1zM115 732h1v1h-1zM119 728h1v5h-1zM123 720h1v13h-1zM127 715h1v18h-1zM131 711h1v22h-1zM135 705h1v28h-1zM139 695h1v38h-1zM143 689h1v44h-1zM147 684h1v49h-1zM151 680h1v53h-1zM155 675h1v58h-1zM159 677h1v56h-1zM163 681h1v52h-1zM167 686h1v47h-1zM171 696h1v37h-1zM175 699h1v34h-1zM179 694h1v39h-1zM183 697h1v36h-1zM187 694h1v39h-1zM191 697h1v36h-1zM195 703h1v30h-1zM199 708h1v25h-1zM203 719h1v14h-1zM207 727h1v6h-1zM211 732h1v1h-1zM215 732h1v3h-1zM219 732h1v3h-1zM223 731h1v2h-1zM227 732h1v1h-1zM231 727h1v6h-1zM235 723h1v10h-1zM239 720h1v13h-1zM243 714h1v19h-1zM247 711h1v22h-1zM251 705h1v28h-1zM255 702h1v31h-1zM259 711h1v22h-1zM263 719h1v14h-1zM267 719h1v14h-1zM271 716h1v17h-1zM275 703h1v30h-1zM279 701h1v32h-1zM283 696h1v37h-1zM287 688h1v45h-1zM291 682h1v51h-1zM295 684h1v49h-1zM299 683h1v50h-1zM303 684h1v49h-1zM307 680h1v53h-1zM311 678h1v55h-1zM315 675h1v58h-1zM319 676h1v57h-1zM323 677h1v56h-1zM327 680h1v53h-1zM331 680h1v53h-1zM335 684h1v49h-1zM339 685h1v48h-1zM343 682h1v51h-1zM347 681h1v52h-1zM351 680h1v53h-1zM355 677h1v56h-1zM359 676h1v57h-1zM363 671h1v62h-1zM367 672h1v61h-1zM371 675h1v58h-1zM375 679h1v54h-1zM379 689h1v44h-1zM383 702h1v31h-1zM387 708h1v25h-1zM391 710h1v23h-1zM395 716h1v17h-1zM399 718h1v15h-1zM403 720h1v13h-1zM407 719h1v14h-1zM411 719h1v14h-1zM415 719h1v14h-1zM419 716h1v17h-1zM423 721h1v12h-1zM427 713h1v20h-1zM431 704h1v29h-1zM435 699h1v34h-1zM439 694h1v39h-1zM443 687h1v46h-1zM447 680h1v53h-1zM451 672h1v61h-1zM455 667h1v66h-1zM459 667h1v66h-1zM463 668h1v65h-1zM467 670h1v63h-1zM471 673h1v60h-1zM475 673h1v60h-1zM479 674h1v59h-1zM483 677h1v56h-1zM487 679h1v54h-1zM491 694h1v39h-1zM495 695h1v38h-1zM499 689h1v44h-1zM503 694h1v39h-1zM507 699h1v34h-1zM511 700h1v33h-1zM515 699h1v34h-1zM519 705h1v28h-1zM523 708h1v25h-1zM527 714h1v19h-1zM531 716h1v17h-1zM535 711h1v22h-1zM539 698h1v35h-1zM543 686h1v47h-1zM547 689h1v44h-1zM551 692h1v41h-1zM555 691h1v42h-1zM559 686h1v47h-1zM563 678h1v55h-1zM567 669h1v64h-1zM571 655h1v78h-1zM575 644h1v89h-1zM579 629h1v104h-1zM583 619h1v114h-1zM587 620h1v113h-1zM591 620h1v113h-1zM595 623h1v110h-1zM599 626h1v107h-1zM603 629h1v104h-1zM607 630h1v103h-1zM611 628h1v105h-1zM615 622h1v111h-1zM619 628h1v105h-1zM623 638h1v95h-1zM627 645h1v88h-1zM631 656h1v77h-1zM635 663h1v70h-1zM639 667h1v66h-1zM643 664h1v69h-1zM647 664h1v69h-1zM651 668h1v65h-1zM655 669h1v64h-1zM659 665h1v68h-1zM663 667h1v66h-1zM667 668h1v65h-1zM671 666h1v67h-1zM675 665h1v68h-1zM679 660h1v73h-1zM683 646h1v87h-1zM687 640h1v93h-1zM691 635h1v98h-1zM695 633h1v100h-1zM699 637h1v96h-1zM703 647h1v86h-1zM707 654h1v79h-1zM711 656h1v77h-1zM715 656h1v77h-1zM719 657h1v76h-1zM723 666h1v67h-1zM727 681h1v52h-1zM731 712h1v21h-1zM735 729h1v4h-1zM739 727h1v6h-1zM743 724h1v9h-1zM747 726h1v7h-1zM751 730h1v3h-1zM755 732h1v10h-1zM759 732h1v13h-1zM763 732h1v21h-1zM767 732h1v30h-1zM771 732h1v31h-1zM775 732h1v30h-1zM779 732h1v23h-1zM783 732h1v18h-1zM787 732h1v12h-1zM791 732h1v7h-1zM795 730h1v3h-1zM799 724h1v9h-1zM803 717h1v16h-1zM807 711h1v22h-1zM811 705h1v28h-1zM815 703h1v30h-1zM819 699h1v34h-1zM823 694h1v39h-1zM827 691h1v42h-1zM831 695h1v38h-1zM835 703h1v30h-1zM839 708h1v25h-1zM843 709h1v24h-1zM847 709h1v24h-1zM851 708h1v25h-1zM855 704h1v29h-1zM859 701h1v32h-1zM863 702h1v31h-1zM867 694h1v39h-1zM871 683h1v50h-1zM875 677h1v56h-1zM879 668h1v65h-1zM883 658h1v75h-1zM887 650h1v83h-1zM891 638h1v95h-1zM895 631h1v102h-1zM899 626h1v107h-1zM903 616h1v117h-1zM907 620h1v113h-1zM911 620h1v113h-1zM915 619h1v114h-1zM919 623h1v110h-1zM923 620h1v113h-1zM927 623h1v110h-1zM931 642h1v91h-1zM935 657h1v76h-1zM939 666h1v67h-1zM943 664h1v69h-1zM947 663h1v70h-1zM951 669h1v64h-1zM955 655h1v78h-1zM959 646h1v87h-1zM963 642h1v91h-1zM967 634h1v99h-1zM971 620h1v113h-1zM975 618h1v115h-1zM979 613h1v120h-1zM983 608h1v125h-1zM987 607h1v126h-1zM991 612h1v121h-1zM995 626h1v107h-1zM999 640h1v93h-1zM1003 652h1v81h-1zM1007 657h1v76h-1zM1011 664h1v69h-1zM1015 667h1v66h-1zM1019 666h1v67h-1zM1023 664h1v69h-1zM1027 671h1v62h-1zM1031 678h1v55h-1zM1035 698h1v35h-1zM1039 716h1v17h-1zM1043 727h1v6h-1zM1047 732h1v14h-1zM1051 732h1v19h-1zM1055 732h1v27h-1zM1059 732h1v31h-1zM1063 732h1v32h-1zM1067 732h1v25h-1zM1071 732h1v27h-1zM1075 732h1v21h-1zM1079 732h1v6h-1zM1083 726h1v7h-1zM1087 719h1v14h-1zM1091 717h1v16h-1zM1095 720h1v13h-1zM1099 720h1v13h-1zM1103 723h1v10h-1zM1107 720h1v13h-1zM1111 716h1v17h-1zM1115 711h1v22h-1zM1119 714h1v19h-1zM1123 702h1v31h-1zM1127 698h1v35h-1zM1131 698h1v35h-1zM1135 702h1v31h-1zM1139 708h1v25h-1zM1143 720h1v13h-1zM1147 729h1v4h-1zM1151 732h1v8h-1zM1155 732h1v19h-1zM1159 732h1v29h-1zM1163 732h1v44h-1zM1167 732h1v49h-1zM1171 732h1v54h-1zM1175 732h1v58h-1zM1179 732h1v54h-1zM1183 732h1v48h-1zM1187 732h1v44h-1zM1191 732h1v37h-1zM1195 732h1v37h-1zM1199 732h1v38h-1zM1203 732h1v33h-1zM1207 732h1v25h-1zM1211 732h1v17h-1zM1215 732h1v9h-1zM1219 732h1v4h-1zM1223 727h1v6h-1zM1227 716h1v17h-1zM1231 704h1v29h-1zM1235 696h1v37h-1zM1239 694h1v39h-1zM1243 696h1v37h-1zM1247 694h1v39h-1zM1251 696h1v37h-1zM1255 700h1v33h-1zM1259 709h1v24h-1zM1263 720h1v13h-1zM1267 727h1v6h-1zM1271 732h1v1h-1zM1275 732h1v6h-1zM1279 732h1v1h-1zM1283 732h1v4h-1zM1287 732h1v4h-1zM1291 732h1v10h-1zM1295 732h1v14h-1zM1299 732h1v16h-1zM1303 732h1v24h-1zM1307 732h1v28h-1zM1311 732h1v20h-1zM1315 732h1v11h-1zM1319 732h1v4h-1zM1323 730h1v3h-1zM1327 726h1v7h-1zM1331 728h1v5h-1zM1335 732h1v9h-1zM1339 732h1v15h-1zM1343 732h1v30h-1zM1347 732h1v45h-1zM1351 732h1v58h-1zM1355 732h1v77h-1zM1359 732h1v82h-1zM1363 732h1v74h-1zM1367 732h1v68h-1zM1371 732h1v66h-1zM1375 732h1v68h-1zM1379 732h1v69h-1zM1383 732h1v57h-1zM1387 732h1v60h-1zM1391 732h1v61h-1zM1395 732h1v63h-1zM1399 732h1v58h-1zM1403 732h1v59h-1zM1407 732h1v63h-1zM1411 732h1v65h-1zM1415 732h1v68h-1zM1419 732h1v60h-1zM1423 732h1v59h-1zM1427 732h1v61h-1zM1431 732h1v66h-1zM1435 732h1v74h-1zM1439 732h1v74h-1zM1443 732h1v71h-1zM1447 732h1v67h-1zM1451 732h1v63h-1zM1455 732h1v59h-1zM1459 732h1v54h-1zM1463 732h1v51h-1zM1467 732h1v42h-1zM1471 732h1v38h-1zM1475 732h1v33h-1zM1479 732h1v32h-1zM1483 732h1v38h-1zM1487 732h1v41h-1zM1491 732h1v42h-1z" fill="#000088"/><polyline points="3.5,570.5 7.5,569.7 11.5,578.8 15.5,571.9 19.5,579.1 23.5,589.2 27.5,599.4 31.5,607.6 35.5,612.5 39.5,624.6 43.5,630.9 47.5,636.0 51.5,639.1 55.5,637.8 59.5,640.9 63.5,649.5 67.5,658.3 71.5,665.2 75.5,669.4 79.5,677.6 83.5,683.3 87.5,689.7 91.5,702.1 95.5,716.0 99.5,728.1 103.5,736.1 107.5,737.2 111.5,737.1 115.5,732.8 119.5,728.9 123.5,720.0 127.5,715.5 131.5,711.2 135.5,705.6 139.5,696.0 143.5,689.0 147.5,684.5 151.5,680.9 155.5,675.9 159.5,677.6 163.5,681.3 167.5,686.4 171.5,696.1 175.5,699.6 179.5,694.8 183.5,697.6 187.5,694.2 191.5,697.7 195.5,703.5 199.5,708.7 203.5,719.7 207.5,727.2 211.5,732.3 215.5,734.1 219.5,734.1 223.5,731.9 227.5,732.9 231.5,727.6 235.5,723.7 239.5,720.6 243.5,714.2 247.5,711.2 251.5,705.2 255.5,702.9 259.5,711.8 263.5,719.6 267.5,719.9 271.5,716.4 275.5,703.1 279.5,701.8 283.5,696.4 287.5,688.6 291.5,682.3 295.5,684.7 299.5,683.6 303.5,684.1 307.5,680.6 311.5,678.7 315.5,676.0 319.5,677.0 323.5,677.8 327.5,680.1 331.5,680.7 335.5,684.3 339.5,685.8 343.5,682.6 347.5,681.8 351.5,680.8 355.5,677.3 359.5,676.5 363.5,671.9 367.5,673.0 371.5,675.5 375.5,679.4 379.5,689.3 383.5,702.4 387.5,708.4 391.5,710.3 395.5,716.3 399.5,718.9 403.5,720.2 407.5,719.8 411.5,719.5 415.5,719.8 419.5,716.8 423.5,721.1 427.5,713.8 431.5,704.1 435.5,699.9 439.5,694.1 443.5,687.7 447.5,680.9 451.5,672.4 455.5,667.7 459.5,667.1 463.5,668.2 467.5,670.0 471.5,673.8 475.5,673.3 479.5,674.8 483.5,677.2 487.5,679.8 491.5,694.3 495.5,695.3 499.5,689.8 503.5,695.0 507.5,699.3 511.5,700.7 515.5,699.9 519.5,705.0 523.5,708.0 527.5,714.2 531.5,716.7 535.5,711.3 539.5,698.3 543.5,686.8 547.5,689.2 551.5,692.6 555.5,691.4 559.5,686.4 563.5,678.6 567.5,669.7 571.5,655.6 575.5,644.3 579.5,629.1 583.5,619.2 587.5,620.4 591.5,620.6 595.5,623.5 599.5,626.2 603.5,629.4 607.5,630.1 611.5,628.1 615.5,622.9 619.5,628.4 623.5,638.5 627.5,645.7 631.5,656.3 635.5,663.8 639.5,667.8 643.5,664.2 647.5,665.0 651.5,668.1 655.5,669.9 659.5,665.1 663.5,667.2 667.5,668.4 671.5,666.9 675.5,665.1 679.5,660.3 683.5,646.9 687.5,640.4 691.5,636.0 695.5,633.9 699.5,637.1 703.5,647.8 707.5,654.5 711.5,656.3 715.5,656.9 719.5,657.0 723.5,667.0 727.5,681.8 731.5,712.1 735.5,729.3 739.5,727.5 743.5,724.9 747.5,726.4 751.5,730.5 755.5,741.8 759.5,744.3 763.5,752.2 767.5,761.8 771.5,762.9 775.5,761.1 779.5,754.4 783.5,749.9 787.5,743.4 791.5,738.1 795.5,730.1 799.5,724.4 803.5,717.7 807.5,711.1 811.5,705.5 815.5,703.4 819.5,699.9 823.5,694.3 827.5,691.1 831.5,695.5 835.5,703.9 839.5,708.8 843.5,709.6 847.5,709.0 851.5,708.2 855.5,704.7 859.5,701.6 863.5,702.0 867.5,694.8 871.5,683.3 875.5,677.0 879.5,668.5 883.5,658.3 887.5,650.0 891.5,638.4 895.5,631.3 899.5,626.7 903.5,616.8 907.5,620.7 911.5,620.8 915.5,619.9 919.5,623.4 923.5,620.2 927.5,623.0 931.5,642.2 935.5,657.1 939.5,666.5 943.5,665.0 947.5,663.5 951.5,669.6 955.5,655.3 959.5,646.8 963.5,642.2 967.5,634.7 971.5,620.5 975.5,618.8 979.5,613.3 983.5,608.3 987.5,607.2 991.5,612.7 995.5,626.0 999.5,640.6 1003.5,652.1 1007.5,657.1 1011.5,664.8 1015.5,667.2 1019.5,666.8 1023.5,664.1 1027.5,671.2 1031.5,678.1 1035.5,698.1 1039.5,716.0 1043.5,727.3 1047.5,745.5 1051.5,750.6 1055.5,758.9 1059.5,762.2 1063.5,763.9 1067.5,756.3 1071.5,758.6 1075.5,752.9 1079.5,737.9 1083.5,726.1 1087.5,719.5 1091.5,717.2 1095.5,720.5 1099.5,720.1 1103.5,723.3 1107.5,720.9 1111.5,716.8 1115.5,711.2 1119.5,714.6 1123.5,702.1 1127.5,698.6 1131.5,698.1 1135.5,702.3 1139.5,708.5 1143.5,720.2 1147.5,729.4 1151.5,739.9 1155.5,750.2 1159.5,760.9 1163.5,775.8 1167.5,780.9 1171.5,785.7 1175.5,789.7 1179.5,785.1 1183.5,779.5 1187.5,775.5 1191.5,768.9 1195.5,768.6 1199.5,769.2 1203.5,764.9 1207.5,756.9 1211.5,748.5 1215.5,741.0 1219.5,735.3 1223.5,727.6 1227.5,716.1 1231.5,704.7 1235.5,696.9 1239.5,694.6 1243.5,696.3 1247.5,694.2 1251.5,696.4 1255.5,700.1 1259.5,709.1 1263.5,720.1 1267.5,727.4 1271.5,732.8 1275.5,737.0 1279.5,733.0 1283.5,735.3 1287.5,735.5 1291.5,741.7 1295.5,745.4 1299.5,747.1 1303.5,755.5 1307.5,759.8 1311.5,751.6 1315.5,742.7 1319.5,735.7 1323.5,730.4 1327.5,726.2 1331.5,728.6 1335.5,740.7 1339.5,746.4 1343.5,761.3 1347.5,776.2 1351.5,790.0 1355.5,808.6 1359.5,813.6 1363.5,805.5 1367.5,799.5 1371.5,797.4 1375.5,799.5 1379.5,800.9 1383.5,788.4 1387.5,791.2 1391.5,792.6 1395.5,794.6 1399.5,789.7 1403.5,790.6 1407.5,794.3 1411.5,796.6 1415.5,799.3 1419.5,791.7 1423.5,790.7 1427.5,792.5 1431.5,797.9 1435.5,806.0 1439.5,805.7 1443.5,802.1 1447.5,799.0 1451.5,794.9 1455.5,790.9 1459.5,785.2 1463.5,782.1 1467.5,773.5 1471.5,769.2 1475.5,764.7 1479.5,763.8 1483.5,769.4 1487.5,772.3 1491.5,773.7" fill="none" stroke="#c0c0c0" stroke-width="1"/><polyline points="3.5,569.7 7.5,568.2 11.5,568.1 15.5,567.7 19.5,568.6 23.5,571.0 27.5,574.9 31.5,580.2 35.5,586.5 39.5,592.5 43.5,599.3 47.5,605.7 51.5,613.2 55.5,619.7 59.5,625.4 63.5,631.0 67.5,636.6 71.5,642.5 75.5,647.5 79.5,652.7 83.5,657.9 87.5,663.5 91.5,670.7 95.5,679.0 99.5,687.7 103.5,696.4 107.5,704.4 111.5,711.9 115.5,718.0 119.5,723.1 123.5,726.5 127.5,728.0 131.5,727.4 135.5,724.9 139.5,720.5 143.5,715.1 147.5,709.3 151.5,703.5 155.5,697.6 159.5,692.9 163.5,689.1 167.5,686.4 171.5,685.3 175.5,685.7 179.5,686.3 183.5,687.8 187.5,689.3 191.5,691.7 195.5,694.6 199.5,697.6 203.5,701.3 207.5,704.8 211.5,708.4 215.5,712.8 219.5,716.8 223.5,721.0 227.5,724.9 231.5,727.6 235.5,729.3 239.5,729.4 243.5,727.9 247.5,725.6 251.5,722.4 255.5,718.9 259.5,716.7 263.5,715.2 267.5,714.3 271.5,713.5 275.5,711.6 279.5,710.2 283.5,708.6 287.5,706.7 291.5,704.4 295.5,701.4 299.5,697.4 303.5,693.4 307.5,689.5 311.5,686.7 315.5,683.9 319.5,681.7 323.5,680.5 327.5,680.3 331.5,679.8 335.5,679.9 339.5,680.1 343.5,680.3 347.5,680.7 351.5,681.2 355.5,681.2 359.5,681.1 363.5,680.2 367.5,679.3 371.5,678.3 375.5,677.6 379.5,678.4 383.5,680.7 387.5,683.7 391.5,687.4 395.5,691.8 399.5,697.1 403.5,702.3 407.5,707.2 411.5,711.7 415.5,715.1 419.5,716.7 423.5,718.1 427.5,718.5 431.5,717.1 435.5,715.0 439.5,712.1 443.5,708.5 447.5,704.2 451.5,699.0 455.5,693.5 459.5,687.5 463.5,682.4 467.5,678.7 471.5,675.7 475.5,673.4 479.5,672.0 483.5,671.6 487.5,672.4 491.5,675.4 495.5,678.5 499.5,680.9 503.5,683.7 507.5,686.5 511.5,689.6 515.5,692.3 519.5,695.4 523.5,698.6 527.5,700.8 531.5,703.2 535.5,705.6 539.5,705.9 543.5,704.5 547.5,703.3 551.5,702.5 555.5,700.9 559.5,698.5 563.5,694.6 567.5,689.4 571.5,683.2 575.5,677.2 579.5,670.7 583.5,663.0 587.5,655.0 591.5,647.1 595.5,640.1 599.5,634.3 603.5,629.8 607.5,627.0 611.5,625.2 615.5,624.5 619.5,625.5 623.5,627.5 627.5,630.3 631.5,634.0 635.5,638.1 639.5,642.4 643.5,646.2 647.5,650.3 651.5,655.3 655.5,659.9 659.5,662.9 663.5,665.3 667.5,666.6 671.5,666.9 675.5,666.6 679.5,666.2 683.5,664.2 687.5,661.1 691.5,657.4 695.5,653.9 699.5,650.5 703.5,648.3 707.5,646.9 711.5,645.9 715.5,645.5 719.5,646.7 723.5,649.6 727.5,654.7 731.5,663.4 735.5,673.6 739.5,682.5 743.5,690.3 747.5,698.1 751.5,706.3 755.5,715.7 759.5,724.3 763.5,732.1 767.5,737.6 771.5,741.4 775.5,745.1 779.5,748.4 783.5,751.0 787.5,752.4 791.5,752.0 795.5,750.4 799.5,747.3 803.5,742.4 807.5,736.7 811.5,730.5 815.5,724.8 819.5,719.3 823.5,713.8 827.5,708.6 831.5,704.8 835.5,702.5 839.5,701.5 843.5,701.3 847.5,701.7 851.5,702.3 855.5,702.8 859.5,703.6 863.5,704.8 867.5,704.7 871.5,702.4 875.5,698.9 879.5,694.4 883.5,688.7 887.5,682.2 891.5,674.9 895.5,667.1 899.5,658.7 903.5,650.0 907.5,643.1 911.5,636.8 915.5,631.4 919.5,627.6 923.5,624.3 927.5,622.6 931.5,623.8 935.5,627.1 939.5,632.7 943.5,637.6 947.5,642.3 951.5,647.8 955.5,651.4 959.5,654.3 963.5,656.5 967.5,655.6 971.5,651.6 975.5,646.2 979.5,640.5 983.5,634.4 987.5,627.4 991.5,622.7 995.5,620.4 999.5,620.2 1003.5,622.2 1007.5,626.2 1011.5,631.4 1015.5,637.3 1019.5,643.8 1023.5,650.2 1027.5,656.7 1031.5,662.4 1035.5,668.8 1039.5,675.9 1043.5,683.7 1047.5,692.7 1051.5,702.0 1055.5,712.2 1059.5,723.1 1063.5,733.4 1067.5,742.1 1071.5,748.8 1075.5,752.9 1079.5,754.1 1083.5,751.9 1087.5,748.5 1091.5,743.8 1095.5,739.2 1099.5,734.3 1103.5,730.7 1107.5,726.5 1111.5,722.5 1115.5,719.5 1119.5,718.2 1123.5,716.3 1127.5,714.2 1131.5,711.8 1135.5,709.8 1139.5,708.1 1143.5,708.1 1147.5,709.5 1151.5,712.6 1155.5,716.6 1159.5,723.1 1163.5,731.7 1167.5,740.9 1171.5,750.2 1175.5,759.2 1179.5,766.4 1183.5,772.0 1187.5,775.9 1191.5,778.0 1195.5,778.9 1199.5,778.1 1203.5,776.3 1207.5,773.1 1211.5,768.6 1215.5,763.7 1219.5,758.7 1223.5,753.4 1227.5,747.6 1231.5,740.5 1235.5,732.4 1239.5,724.6 1243.5,717.9 1247.5,711.9 1251.5,706.9 1255.5,703.0 1259.5,700.9 1263.5,701.4 1267.5,703.9 1271.5,707.9 1275.5,712.6 1279.5,716.7 1283.5,721.2 1287.5,725.6 1291.5,730.2 1295.5,734.2 1299.5,737.2 1303.5,740.4 1307.5,743.4 1311.5,745.0 1315.5,746.1 1319.5,746.1 1323.5,745.5 1327.5,743.8 1331.5,742.0 1335.5,741.3 1339.5,740.2 1343.5,740.4 1347.5,743.1 1351.5,748.4 1355.5,756.5 1359.5,765.7 1363.5,774.5 1367.5,782.4 1371.5,788.7 1375.5,794.6 1379.5,799.0 1383.5,800.4 1387.5,800.5 1391.5,798.7 1395.5,796.6 1399.5,794.9 1403.5,793.9 1407.5,793.5 1411.5,793.2 1415.5,793.0 1419.5,793.4 1423.5,793.4 1427.5,793.3 1431.5,793.7 1435.5,795.5 1439.5,797.2 1443.5,798.1 1447.5,798.3 1451.5,797.8 1455.5,797.7 1459.5,797.1 1463.5,796.0 1467.5,793.2 1471.5,789.2 1475.5,784.6 1479.5,780.4 1483.5,777.1 1487.5,774.6 1491.5,772.7" fill="none" stroke="#000" stroke-width="1"/></g><g shape-rendering="crispEdges" fill="#000"><rect x="2" y="2" width="1501" height="1"/><rect x="2" y="551" width="1501" height="1"/><rect x="2" y="2" width="1" height="550"/><rect x="1502" y="2" width="1" height="550"/><rect x="2" y="553" width="1501" height="1"/><rect x="2" y="826" width="1501" height="1"/><rect x="2" y="553" width="1" height="274"/><rect x="1502" y="553" width="1" height="274"/><rect x="1503" y="42" width="2" height="1"/><rect x="1503" y="91" width="2" height="1"/><rect x="1503" y="140" width="2" height="1"/><rect x="1503" y="189" width="2" height="1"/><rect x="1503" y="238" width="2" height="1"/><rect x="1503" y="287" width="2" height="1"/><rect x="1503" y="336" width="2" height="1"/><rect x="1503" y="385" width="2" height="1"/><rect x="1503" y="434" width="2" height="1"/><rect x="1503" y="483" width="2" height="1"/><rect x="1503" y="532" width="2" height="1"/><rect x="1503" y="555" width="1" height="1"/><rect x="1503" y="732" width="1" height="1"/><rect x="1503" y="825" width="1" height="1"/><rect x="3" y="827" width="1" height="3"/><rect x="99" y="827" width="1" height="3"/><rect x="195" y="827" width="1" height="3"/><rect x="291" y="827" width="1" height="3"/><rect x="387" y="827" width="1" height="3"/><rect x="483" y="827" width="1" height="3"/><rect x="579" y="827" width="1" height="3"/><rect x="675" y="827" width="1" height="3"/><rect x="771" y="827" width="1" height="3"/><rect x="867" y="827" width="1" height="3"/><rect x="963" y="827" width="1" height="3"/><rect x="1059" y="827" width="1" height="3"/><rect x="1155" y="827" width="1" height="3"/><rect x="1251" y="827" width="1" height="3"/><rect x="1347" y="827" width="1" height="3"/><rect x="1443" y="827" width="1" height="3"/></g><g style="font-family:'Liberation Sans',sans-serif;font-size:12.5px" fill="#000"><text x="1509.5" y="47">0.78050</text><text x="1509.5" y="96">0.77470</text><text x="1509.5" y="145">0.76890</text><text x="1509.5" y="194">0.76320</text><text x="1509.5" y="243">0.75740</text><text x="1509.5" y="292">0.75160</text><text x="1509.5" y="341">0.74580</text><text x="1509.5" y="390">0.74010</text><text x="1509.5" y="439">0.73430</text><text x="1509.5" y="488">0.72850</text><text x="1509.5" y="537">0.72280</text></g><rect x="1504" y="23" width="56" height="14" fill="#ff0000"/><rect x="1504" y="210" width="56" height="10" fill="#000"/><rect x="1504" y="219" width="56" height="14" fill="#ff0000"/><g style="font-family:'Liberation Sans',sans-serif;font-size:12.5px" fill="#fff"><text x="1509" y="34.5">0.78194</text><svg x="1504" y="210" width="57" height="9" overflow="hidden"><text x="5" y="13.5">0.75989</text></svg><text x="1509" y="230.5">0.75891</text></g><g style="font-family:'Liberation Sans',sans-serif;font-size:12.5px" fill="#000"><text x="1506" y="567.5">0.005255</text><text x="1506" y="737">0.00</text><text x="1506" y="823">-0.002747</text></g><g style="font-family:'Liberation Sans',sans-serif;font-size:12.5px" fill="#000"><text x="1.5" y="842">9 Nov 2020</text><text x="98.5" y="842">13 Nov 00:00</text><text x="194.5" y="842">19 Nov 00:00</text><text x="290.5" y="842">25 Nov 00:00</text><text x="386.5" y="842">1 Dec 00:00</text><text x="482.5" y="842">7 Dec 00:00</text><text x="578.5" y="842">11 Dec 00:00</text><text x="674.5" y="842">17 Dec 00:00</text><text x="770.5" y="842">23 Dec 00:00</text><text x="866.5" y="842">30 Dec 00:00</text><text x="962.5" y="842">6 Jan 00:00</text><text x="1058.5" y="842">12 Jan 00:00</text><text x="1154.5" y="842">18 Jan 00:00</text><text x="1250.5" y="842">22 Jan 00:00</text><text x="1346.5" y="842">28 Jan 00:00</text><text x="1442.5" y="842">3 Feb 00:00</text></g><g style="font-family:'Liberation Sans',sans-serif;font-size:12.5px" fill="#000"><path d="M6 10h9l-4.5 5z" fill="#000"/><text x="20.7" y="17" textLength="66.1" lengthAdjust="spacingAndGlyphs">AUDUSD,H4</text><text x="95.0" y="17" textLength="45.6" lengthAdjust="spacingAndGlyphs">0.75961</text><text x="145.0" y="17" textLength="45.7" lengthAdjust="spacingAndGlyphs">0.76087</text><text x="195.1" y="17" textLength="46.1" lengthAdjust="spacingAndGlyphs">0.75882</text><text x="245.0" y="17" textLength="46.1" lengthAdjust="spacingAndGlyphs">0.75989</text><text x="6.6" y="569" textLength="85.1" lengthAdjust="spacingAndGlyphs">MACD(12,26,9)</text><text x="95.6" y="569" textLength="57.4" lengthAdjust="spacingAndGlyphs">-0.001218</text><text x="156.9" y="569" textLength="56.9" lengthAdjust="spacingAndGlyphs">-0.001183</text><text x="221.5" y="569" textLength="47.1" lengthAdjust="spacingAndGlyphs">-&gt;MA(1)</text><text x="272.5" y="569" textLength="57.5" lengthAdjust="spacingAndGlyphs">-0.001218</text></g></svg>
</body></html>
